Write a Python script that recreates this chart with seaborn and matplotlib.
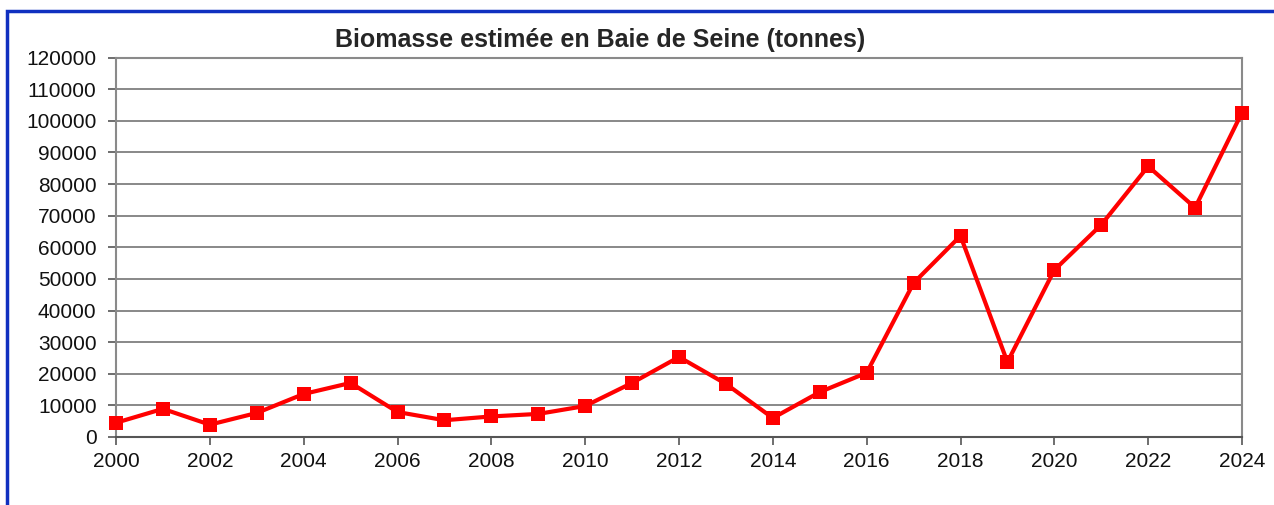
import numpy as np
import pandas as pd
import matplotlib.pyplot as plt
import seaborn as sns
from matplotlib.patches import Rectangle

years = list(range(2000, 2025))
biomass = [4500, 8900, 3900, 7600, 13600, 17100, 7900, 5300, 6500, 7300,
           9800, 17100, 25300, 16800, 6000, 14200, 20300, 48700, 63600, 23700,
           52800, 67100, 85600, 72500, 102600]
x_ticks = list(range(2000, 2025, 2))
y_ticks = list(range(0, 120001, 10000))
title = "Biomasse estimée en Baie de Seine (tonnes)"

df = pd.DataFrame({"year": years, "biomass": biomass})

sns.set_style("white")
plt.rcParams["font.family"] = ["Liberation Sans", "DejaVu Sans"]

fig = plt.figure(figsize=(12.74, 5.05), dpi=100)
ax = fig.add_axes([116 / 1274, 1 - 437 / 505, (1242 - 116) / 1274, (437 - 57.5) / 505])

sns.lineplot(data=df, x="year", y="biomass", ax=ax, color="#ff0000",
             linewidth=3, marker="s", markersize=9.5, markeredgewidth=0,
             zorder=5, clip_on=False)

ax.set_xlim(2000, 2024)
ax.set_ylim(0, 120000)
ax.set_xticks(x_ticks)
ax.set_yticks(y_ticks)
ax.set_xticklabels([str(t) for t in x_ticks], fontsize=15)
ax.set_yticklabels([str(t) for t in y_ticks], fontsize=15)
ax.set_xlabel("")
ax.set_ylabel("")

ax.yaxis.grid(True, color="#7f7f7f", linewidth=1.3)
ax.xaxis.grid(False)
for side in ["left", "right", "top"]:
    ax.spines[side].set_color("#8a8a8a")
    ax.spines[side].set_linewidth(1.5)
ax.spines["bottom"].set_color("#555555")
ax.spines["bottom"].set_linewidth(1.5)
ax.tick_params(axis="both", direction="out", length=6, width=1.2,
               color="#555555", labelcolor="#111111", left=True, bottom=True)
ax.tick_params(axis="x", pad=5)
ax.tick_params(axis="y", pad=8)

fig.text(600 / 1274, 1 - 40 / 505, title, ha="center", va="center",
         fontsize=18, fontweight="bold")

# blue frame around the chart area
fig.patches.append(Rectangle((7 / 1274, -0.05), 1.2, 1 - 11 / 505 + 0.05,
                             transform=fig.transFigure, fill=False,
                             edgecolor="#1030c0", linewidth=2.5))

fig.savefig("out.png", dpi=100)
